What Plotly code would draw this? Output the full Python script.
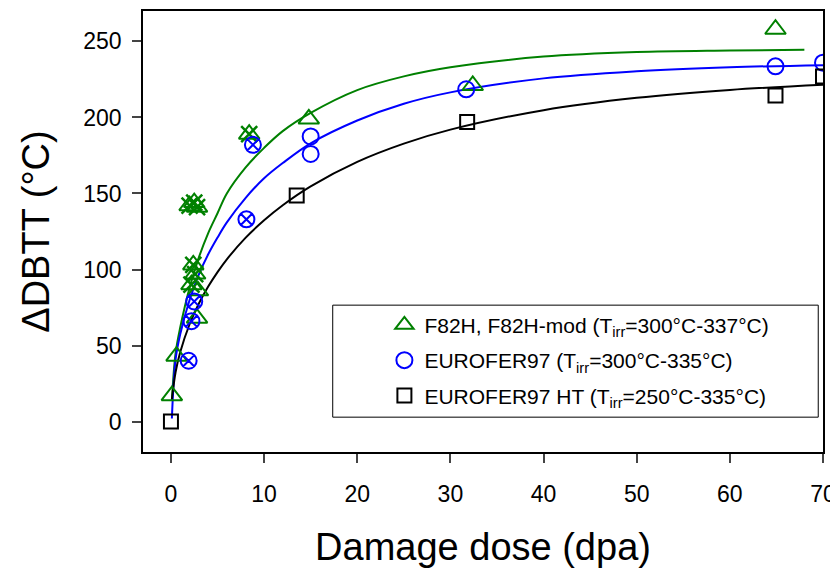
import plotly.graph_objects as go

# ---- data ----
# F82H, F82H-mod
f82_x = [0.1, 0.6, 2.0, 2.5, 2.8, 2.4, 2.6, 2.2, 2.9, 2.8, 8.4, 14.8, 32.4, 64.9]
f82_y = [17, 43, 142, 144, 141, 103, 97, 90, 86, 68, 189, 199, 221, 258]
f82_cross_x = [2.0, 2.5, 2.8, 2.4, 2.6, 2.2, 8.4]
f82_cross_y = [142, 144, 141, 103, 97, 90, 189]

# EUROFER97
eu_x = [15.0, 15.0, 31.7, 64.9, 70.0]
eu_y = [187.5, 176, 218.5, 233.6, 236]
eu_cross_x = [1.9, 2.2, 2.5, 8.1, 8.8]
eu_cross_y = [40, 66, 79, 133, 182]

# EUROFER97 HT
ht_x = [0, 13.5, 31.8, 64.9, 70.0]
ht_y = [0, 148.7, 197, 214.5, 227]

# fitted curves
fit_f82_x = [0.1, 0.5, 1, 2, 3, 4, 5, 6, 8, 10, 12, 15, 20, 25, 30, 40, 50, 60, 68]
fit_f82_y = [14, 45, 62, 88, 108, 124, 137, 150, 167, 180, 191, 203, 218, 227, 233, 240, 243, 244, 244.5]

fit_eu_x = [0.1, 0.5, 1, 2, 3, 4, 5, 6, 8, 10, 12, 15, 20, 25, 30, 40, 50, 60, 70]
fit_eu_y = [2, 41, 57.6, 80, 96.8, 110, 121, 131, 147, 160, 170, 183, 198, 209, 216.5, 225.7, 230.4, 233, 234.4]

fit_ht_x = [0.1, 0.5, 1, 2, 3, 4, 5, 6, 8, 10, 12, 15, 20, 25, 30, 40, 50, 60, 70]
fit_ht_y = [14.6, 32.6, 45.8, 64, 77.7, 88.8, 98.3, 106.7, 120.8, 132.4, 142.3, 154.7, 170.8, 182.8, 192, 204.8, 212.9, 218.1, 221.5]

x_ticks = [0, 10, 20, 30, 40, 50, 60, 70]
y_ticks = [0, 50, 100, 150, 200, 250]

GREEN = "#008000"
BLUE = "#0000FF"
BLACK = "#000000"
FONT = "Arial, Liberation Sans, sans-serif"

fig = go.Figure()

# curves
fig.add_trace(go.Scatter(x=fit_f82_x, y=fit_f82_y, mode="lines", line=dict(color=GREEN, width=2, shape="spline"), showlegend=False))
fig.add_trace(go.Scatter(x=fit_eu_x, y=fit_eu_y, mode="lines", line=dict(color=BLUE, width=2, shape="spline"), showlegend=False))
fig.add_trace(go.Scatter(x=fit_ht_x, y=fit_ht_y, mode="lines", line=dict(color=BLACK, width=2, shape="spline"), showlegend=False))

# markers
fig.add_trace(go.Scatter(x=f82_x, y=f82_y, mode="markers", legendgroup="a",
                         name="F82H, F82H-mod (T<sub>irr</sub>=300°C-337°C)",
                         marker=dict(symbol="triangle-up-open", size=18, color=GREEN, line=dict(width=2, color=GREEN))))
fig.add_trace(go.Scatter(x=f82_cross_x, y=f82_cross_y, mode="markers", showlegend=False, legendgroup="a",
                         marker=dict(symbol="x-thin-open", size=16, color=GREEN, line=dict(width=2.5, color=GREEN))))
fig.add_trace(go.Scatter(x=eu_x, y=eu_y, mode="markers", legendgroup="b",
                         name="EUROFER97 (T<sub>irr</sub>=300°C-335°C)",
                         marker=dict(symbol="circle-open", size=16, color=BLUE, line=dict(width=2, color=BLUE))))
fig.add_trace(go.Scatter(x=eu_cross_x, y=eu_cross_y, mode="markers", showlegend=False, legendgroup="b",
                         marker=dict(symbol="circle-x-open", size=16, color=BLUE, line=dict(width=2, color=BLUE))))
fig.add_trace(go.Scatter(x=ht_x, y=ht_y, mode="markers", legendgroup="c",
                         name="EUROFER97 HT (T<sub>irr</sub>=250°C-335°C)",
                         marker=dict(symbol="square-open", size=14, color=BLACK, line=dict(width=2, color=BLACK))))

# legend box
fig.add_shape(type="rect", xref="paper", yref="paper", x0=0.279, x1=0.993, y0=0.079, y1=0.333,
              line=dict(color="black", width=1), fillcolor="white", layer="below")

fig.update_layout(
    width=830, height=560,
    margin=dict(l=135, r=15, t=3, b=116),
    paper_bgcolor="white", plot_bgcolor="white",
    font=dict(family=FONT, color="black"),
    showlegend=True,
    legend=dict(x=0.355, y=0.334, xanchor="left", yanchor="top",
                bgcolor="rgba(0,0,0,0)", borderwidth=0,
                font=dict(size=21, family=FONT), tracegroupgap=5, itemwidth=30),
    xaxis=dict(range=[-3, 70], tickvals=x_ticks, ticks="outside", ticklen=9, tickwidth=1.5,
               showline=True, linecolor="black", linewidth=1.5, mirror=True, showgrid=False, zeroline=False,
               tickfont=dict(size=23, family=FONT), ticklabelstandoff=12, automargin=False,
               title=dict(text="Damage dose (dpa)", font=dict(size=38, family=FONT), standoff=30)),
    yaxis=dict(range=[-20, 270], tickvals=y_ticks, ticks="outside", ticklen=9, tickwidth=1.5,
               showline=True, linecolor="black", linewidth=1.5, mirror=True, showgrid=False, zeroline=False,
               tickfont=dict(size=23, family=FONT), ticklabelstandoff=6, automargin=False,
               title=dict(text="ΔDBTT (°C)", font=dict(size=38, family=FONT), standoff=22)),
)

fig.write_html("out.html")
